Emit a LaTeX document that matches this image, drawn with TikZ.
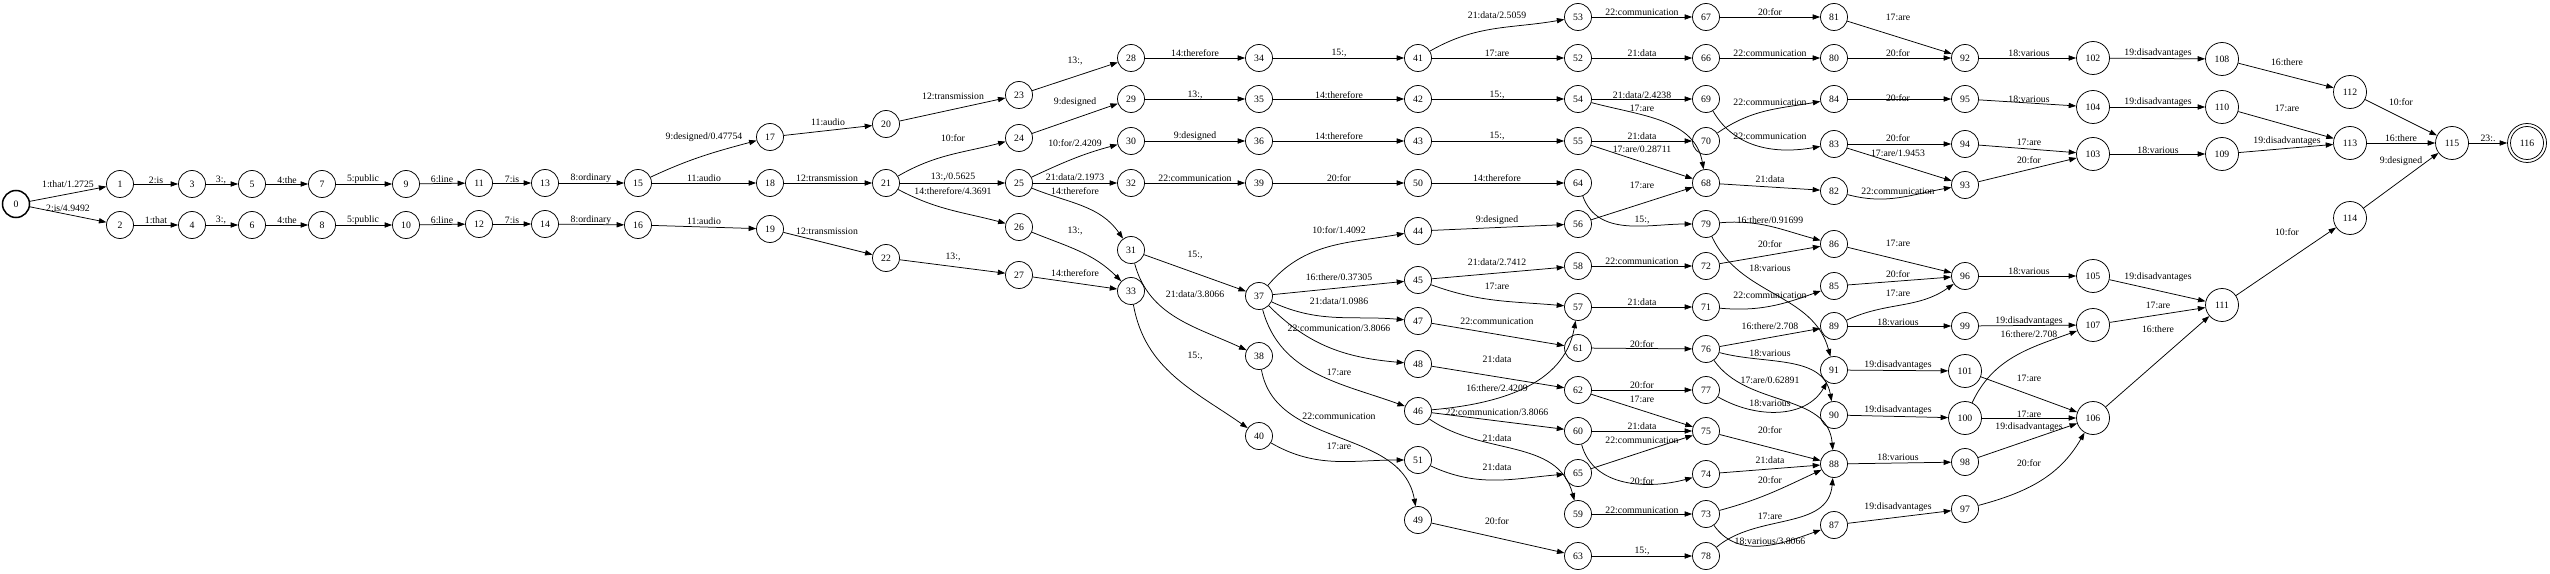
\documentclass[tikz,border=0pt]{standalone}
\usepackage{fontspec}
\setmainfont{Liberation Serif}
\usetikzlibrary{arrows.meta}
\newcommand\lblfont{\fontsize{13}{15}\selectfont}
\newcommand\edg[5][]{\draw[ed] (n#2) to[#1] (n#3) node[lb] at (#4) {#5};}
\tikzset{
 st/.style={circle, draw, line width=1pt, minimum size=36pt, inner sep=0pt, font=\lblfont},
 stw/.style={st, minimum size=44pt},
 ed/.style={-{Triangle[length=10pt,width=7pt]}, line width=1pt},
 lb/.style={inner sep=0pt, font=\lblfont}
}
\begin{document}
\begin{tikzpicture}[x=1.3333pt,y=1.3333pt]
\useasboundingbox (0,0) rectangle (2550,573);
% states
\node[st,line width=2pt] (n0) at (16,369) {0};
\node[st] (n1) at (120,389) {1};
\node[st] (n2) at (120,348) {2};
\node[st] (n3) at (192,389) {3};
\node[st] (n4) at (192,348) {4};
\node[st] (n5) at (252,389) {5};
\node[st] (n6) at (252,348) {6};
\node[st] (n7) at (322,389) {7};
\node[st] (n8) at (322,348) {8};
\node[st] (n9) at (406,389) {9};
\node[st] (n10) at (406,348) {10};
\node[st] (n11) at (479,390) {11};
\node[st] (n12) at (479,349) {12};
\node[st] (n13) at (545,390) {13};
\node[st] (n14) at (545,349) {14};
\node[st] (n15) at (638,390) {15};
\node[st] (n16) at (638,348) {16};
\node[st] (n17) at (770,436) {17};
\node[st] (n18) at (770,390) {18};
\node[st] (n19) at (770,344) {19};
\node[st] (n20) at (886,449) {20};
\node[st] (n21) at (886,390) {21};
\node[st] (n22) at (886,315) {22};
\node[st] (n23) at (1019,478) {23};
\node[st] (n24) at (1019,435) {24};
\node[st] (n25) at (1019,390) {25};
\node[st] (n26) at (1019,346) {26};
\node[st] (n27) at (1019,298) {27};
\node[st] (n28) at (1131,515) {28};
\node[st] (n29) at (1131,474) {29};
\node[st] (n30) at (1131,432) {30};
\node[st] (n32) at (1131,390) {32};
\node[st] (n31) at (1131,323) {31};
\node[st] (n33) at (1131,282) {33};
\node[st] (n34) at (1259,515) {34};
\node[st] (n35) at (1259,474) {35};
\node[st] (n36) at (1259,432) {36};
\node[st] (n39) at (1259,390) {39};
\node[st] (n37) at (1259,277) {37};
\node[st] (n38) at (1259,217) {38};
\node[st] (n40) at (1259,137) {40};
\node[st] (n41) at (1418,515) {41};
\node[st] (n42) at (1418,474) {42};
\node[st] (n43) at (1418,432) {43};
\node[st] (n50) at (1418,390) {50};
\node[st] (n44) at (1418,342) {44};
\node[st] (n45) at (1418,293) {45};
\node[st] (n47) at (1418,252) {47};
\node[st] (n48) at (1418,209) {48};
\node[st] (n46) at (1418,162) {46};
\node[st] (n51) at (1418,113) {51};
\node[st] (n49) at (1418,53) {49};
\node[st] (n53) at (1578,556) {53};
\node[st] (n52) at (1578,515) {52};
\node[st] (n54) at (1578,474) {54};
\node[st] (n55) at (1578,432) {55};
\node[st] (n64) at (1578,390) {64};
\node[st] (n56) at (1578,349) {56};
\node[st] (n58) at (1578,307) {58};
\node[st] (n57) at (1578,266) {57};
\node[st] (n61) at (1578,225) {61};
\node[st] (n62) at (1578,183) {62};
\node[st] (n60) at (1578,142) {60};
\node[st] (n65) at (1578,100) {65};
\node[st] (n59) at (1578,59) {59};
\node[st] (n63) at (1578,17) {63};
\node[st] (n67) at (1706,556) {67};
\node[st] (n66) at (1706,515) {66};
\node[st] (n69) at (1706,474) {69};
\node[st] (n70) at (1706,432) {70};
\node[st] (n68) at (1706,390) {68};
\node[st] (n79) at (1706,349) {79};
\node[st] (n72) at (1706,307) {72};
\node[st] (n71) at (1706,266) {71};
\node[st] (n76) at (1706,224) {76};
\node[st] (n77) at (1706,183) {77};
\node[st] (n75) at (1706,142) {75};
\node[st] (n74) at (1706,99) {74};
\node[st] (n73) at (1706,59) {73};
\node[st] (n78) at (1706,17) {78};
\node[st] (n81) at (1834,556) {81};
\node[st] (n80) at (1834,515) {80};
\node[st] (n84) at (1834,474) {84};
\node[st] (n83) at (1834,429) {83};
\node[st] (n82) at (1834,382) {82};
\node[st] (n86) at (1834,329) {86};
\node[st] (n85) at (1834,287) {85};
\node[st] (n89) at (1834,247) {89};
\node[st] (n91) at (1834,203) {91};
\node[st] (n90) at (1834,158) {90};
\node[st] (n88) at (1834,109) {88};
\node[st] (n87) at (1834,48) {87};
\node[st] (n92) at (1965,515) {92};
\node[st] (n95) at (1965,474) {95};
\node[st] (n94) at (1965,429) {94};
\node[st] (n93) at (1965,388) {93};
\node[st] (n96) at (1965,297) {96};
\node[st] (n99) at (1965,247) {99};
\node[stw] (n101) at (1965,202) {101};
\node[stw] (n100) at (1965,155) {100};
\node[st] (n98) at (1965,111) {98};
\node[st] (n97) at (1965,64) {97};
\node[stw] (n102) at (2093,515) {102};
\node[stw] (n104) at (2093,466) {104};
\node[stw] (n103) at (2093,419) {103};
\node[stw] (n105) at (2093,297) {105};
\node[stw] (n107) at (2093,248) {107};
\node[stw] (n106) at (2093,155) {106};
\node[stw] (n108) at (2222,514) {108};
\node[stw] (n110) at (2222,466) {110};
\node[stw] (n109) at (2222,419) {109};
\node[stw] (n111) at (2222,268) {111};
\node[stw] (n112) at (2350,481) {112};
\node[stw] (n113) at (2350,430) {113};
\node[stw] (n114) at (2350,355) {114};
\node[stw] (n115) at (2452,430) {115};
\node[st,minimum size=52pt] (n116) at (2527,430) {116};
\draw[line width=1pt] (n116.center) circle[radius=22pt];
% arcs
\edg{0}{1}{68,389}{1:that/1.2725}
\edg{0}{2}{68,365}{2:is/4.9492}
\edg{1}{3}{156,393}{2:is}
\edg{2}{4}{156,353}{1:that}
\edg{3}{5}{221,393}{3:,}
\edg{4}{6}{221,353}{3:,}
\edg{5}{7}{287,393}{4:the}
\edg{6}{8}{287,353}{4:the}
\edg{7}{9}{363,394}{5:public}
\edg{8}{10}{363,353}{5:public}
\edg{9}{11}{442,394}{6:line}
\edg{10}{12}{442,353}{6:line}
\edg{11}{13}{512,394}{7:is}
\edg{12}{14}{512,353}{7:is}
\edg{13}{15}{591,395}{8:ordinary}
\edg{14}{16}{591,353}{8:ordinary}
\edg[out=25,in=195]{15}{17}{704,436}{9:designed/0.47754}
\edg{15}{18}{704,395}{11:audio}
\edg{16}{19}{704,352}{11:audio}
\edg{17}{20}{828,451}{11:audio}
\edg{18}{21}{827,395}{12:transmission}
\edg{19}{22}{827,342}{12:transmission}
\edg{20}{23}{953,477}{12:transmission}
\edg[out=30,in=195]{21}{24}{953,435}{10:for}
\edg{21}{25}{953,396}{13:,/0.5625}
\edg[out=-28,in=165]{21}{26}{953,382}{14:therefore/4.3691}
\edg{22}{27}{953,316}{13:,}
\edg{23}{28}{1075,512}{13:,}
\edg{24}{29}{1075,471}{9:designed}
\edg[out=25,in=195]{25}{30}{1075,430}{10:for/2.4209}
\edg{25}{32}{1075,396}{21:data/2.1973}
\edg[out=-22,in=125]{25}{31}{1075,382}{14:therefore}
\edg[out=-22,in=135]{26}{33}{1075,342}{13:,}
\edg{27}{33}{1075,300}{14:therefore}
\edg{28}{34}{1195,520}{14:therefore}
\edg{29}{35}{1195,478}{13:,}
\edg{30}{36}{1195,437}{9:designed}
\edg{32}{39}{1195,395}{22:communication}
\edg{31}{37}{1195,318}{15:,}
\edg[out=-75,in=155]{31}{38}{1195,279}{21:data/3.8066}
\edg[out=-80,in=145]{33}{40}{1195,217}{15:,}
\edg{34}{41}{1339,520}{15:,}
\edg{35}{42}{1339,478}{14:therefore}
\edg{36}{43}{1339,437}{14:therefore}
\edg{39}{50}{1339,395}{20:for}
\edg[out=50,in=190]{37}{44}{1339,343}{10:for/1.4092}
\edg{37}{45}{1339,296}{16:there/0.37305}
\edg[out=-25,in=175]{37}{47}{1339,272}{21:data/1.0986}
\edg[out=-45,in=175]{37}{48}{1339,245}{22:communication/3.8066}
\edg[out=-75,in=160]{37}{46}{1339,201}{17:are}
\edg[out=-80,in=100]{38}{49}{1339,157}{22:communication}
\edg[out=-30,in=180]{40}{51}{1339,127}{17:are}
\edg[out=30,in=190]{41}{53}{1497,558}{21:data/2.5059}
\edg{41}{52}{1497,520}{17:are}
\edg{42}{54}{1497,478}{15:,}
\edg{43}{55}{1497,437}{15:,}
\edg{50}{64}{1497,395}{14:therefore}
\edg{44}{56}{1497,353}{9:designed}
\edg{45}{58}{1497,311}{21:data/2.7412}
\edg[out=-20,in=175]{45}{57}{1497,287}{17:are}
\edg{47}{61}{1497,252}{22:communication}
\edg{48}{62}{1497,214}{21:data}
\edg[out=5,in=-100]{46}{57}{1497,185}{16:there/2.4209}
\edg{46}{60}{1497,161}{22:communication/3.8066}
\edg[out=-35,in=105]{46}{59}{1497,135}{21:data}
\edg[out=-25,in=185]{51}{65}{1497,106}{21:data}
\edg{49}{63}{1497,52}{20:for}
\edg{53}{67}{1642,561}{22:communication}
\edg{52}{66}{1642,520}{21:data}
\edg{54}{69}{1642,478}{21:data/2.4238}
\edg[out=-15,in=100]{54}{68}{1642,465}{17:are}
\edg{55}{70}{1642,437}{21:data}
\edg{55}{68}{1642,424}{17:are/0.28711}
\edg[out=-70,in=180]{64}{79}{1642,353}{15:,}
\edg{56}{68}{1642,388}{17:are}
\edg{58}{72}{1642,312}{22:communication}
\edg{57}{71}{1642,271}{21:data}
\edg{61}{76}{1642,229}{20:for}
\edg{62}{77}{1642,188}{20:for}
\edg{62}{75}{1642,174}{17:are}
\edg{60}{75}{1642,147}{21:data}
\edg{65}{75}{1642,133}{22:communication}
\edg[out=-75,in=195]{60}{74}{1642,92}{20:for}
\edg{59}{73}{1642,63}{22:communication}
\edg{63}{78}{1642,22}{15:,}
\edg{67}{81}{1770,561}{20:for}
\edg{81}{92}{1898,556}{17:are}
\edg{66}{80}{1770,520}{22:communication}
\edg{80}{92}{1898,520}{20:for}
\edg{92}{102}{2029,520}{18:various}
\edg[out=35,in=190]{70}{84}{1770,471}{22:communication}
\edg[out=-60,in=190]{69}{83}{1770,437}{22:communication}
\edg{84}{95}{1898,475}{20:for}
\edg{95}{104}{2029,474}{18:various}
\edg{83}{94}{1898,435}{20:for}
\edg{83}{93}{1898,420}{17:are/1.9453}
\edg{94}{103}{2029,431}{17:are}
\edg{93}{103}{2029,413}{20:for}
\edg{68}{82}{1770,394}{21:data}
\edg[out=-15,in=190]{82}{93}{1898,382}{22:communication}
\edg[out=5,in=165]{79}{86}{1770,353}{16:there/0.91699}
\edg{72}{86}{1770,329}{20:for}
\edg{86}{96}{1898,330}{17:are}
\edg[out=-65,in=105]{79}{91}{1770,305}{18:various}
\edg{85}{96}{1898,299}{20:for}
\edg{96}{105}{2029,302}{18:various}
\edg[out=-5,in=200]{71}{85}{1770,278}{22:communication}
\edg[out=25,in=215]{89}{96}{1898,280}{17:are}
\edg{76}{89}{1770,247}{16:there/2.708}
\edg{89}{99}{1898,251}{18:various}
\edg{99}{107}{2029,252}{19:disadvantages}
\edg[out=65,in=200]{100}{107}{2029,239}{16:there/2.708}
\edg[out=-15,in=100]{76}{90}{1770,220}{18:various}
\edg{91}{101}{1898,208}{19:disadvantages}
\edg[out=-55,in=95]{76}{88}{1770,193}{17:are/0.62891}
\edg{101}{106}{2029,195}{17:are}
\edg[out=-30,in=240]{77}{91}{1770,170}{18:various}
\edg{90}{100}{1898,163}{19:disadvantages}
\edg{100}{106}{2029,159}{17:are}
\edg{98}{106}{2029,146}{19:disadvantages}
\edg{75}{88}{1770,143}{20:for}
\edg{74}{88}{1770,113}{21:data}
\edg{88}{98}{1898,116}{18:various}
\edg[out=15,in=240]{97}{106}{2029,110}{20:for}
\edg[out=15,in=205]{73}{88}{1770,93}{20:for}
\edg{87}{97}{1898,66}{19:disadvantages}
\edg[out=40,in=265]{78}{88}{1770,57}{17:are}
\edg[out=-55,in=200]{73}{87}{1770,32}{18:various/3.8066}
\edg{102}{108}{2158,520}{19:disadvantages}
\edg{108}{112}{2287,511}{16:there}
\edg{104}{110}{2158,471}{19:disadvantages}
\edg{110}{113}{2287,465}{17:are}
\edg{112}{115}{2401,471}{10:for}
\edg{103}{109}{2158,423}{18:various}
\edg{109}{113}{2287,432}{19:disadvantages}
\edg{113}{115}{2401,435}{16:there}
\edg{114}{115}{2401,412}{9:designed}
\edg{115}{116}{2488,435}{23:.}
\edg{111}{114}{2287,341}{10:for}
\edg{105}{111}{2158,296}{19:disadvantages}
\edg{107}{111}{2158,268}{17:are}
\edg{106}{111}{2158,244}{16:there}
\end{tikzpicture}
\end{document}
